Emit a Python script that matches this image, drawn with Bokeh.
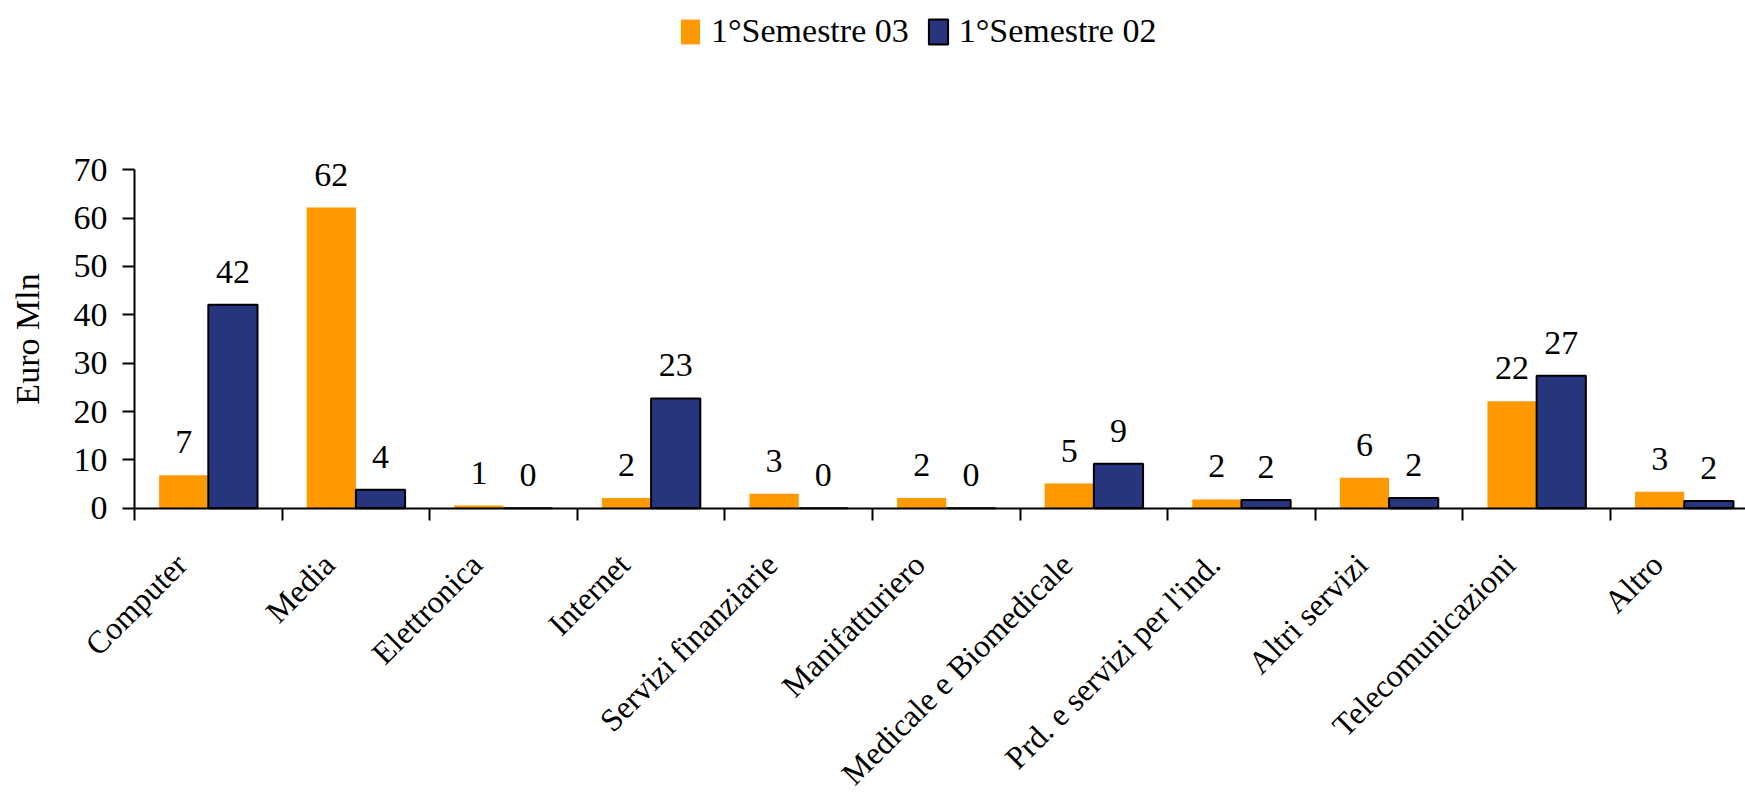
import numpy as np
from math import pi
from bokeh.plotting import figure
from bokeh.models import ColumnDataSource, Range1d, FixedTicker, LabelSet
from bokeh.core.properties import value
from bokeh.embed import file_html
from bokeh.resources import INLINE

# ---- data ----
categories = ["Computer", "Media", "Elettronica", "Internet", "Servizi finanziarie",
              "Manifatturiero", "Medicale e Biomedicale", "Prd. e servizi per l'ind.",
              "Altri servizi", "Telecomunicazioni", "Altro"]
sem03 = [6.8, 62.2, 0.55, 2.1, 3.0, 2.1, 5.1, 1.8, 6.3, 22.1, 3.4]
sem02 = [42.1, 3.8, 0.0, 22.7, 0.0, 0.0, 9.2, 1.7, 2.1, 27.4, 1.5]
series_names = ["1°Semestre 03", "1°Semestre 02"]
y_ticks = [0, 10, 20, 30, 40, 50, 60, 70]
y_label = "Euro Mln"

# ---- style / layout ----
ORANGE = "#FF9900"
BLUE = "#27357F"
FONT = "Liberation Serif"
# the plot frame spans the whole picture so that axis texts, rotated labels and the
# legend lying outside the 0..70 / category area stay visible; the axes sit at x=0, y=0
X_VIEW = (-0.908, 10.915)
Y_VIEW = (-59.64, 105.02)
BAR_W = 1 / 3

n = len(categories)
centers = np.arange(n) + 0.5

src = ColumnDataSource(dict(
    x03=centers - BAR_W / 2, x02=centers + BAR_W / 2,
    s03=sem03, s02=sem02,
    l03=[f"{v:.0f}" for v in sem03], l02=[f"{v:.0f}" for v in sem02],
))
cat_src = ColumnDataSource(dict(x=centers, y=np.zeros(n), name=categories))

p = figure(width=1745, height=796,
           x_range=Range1d(*X_VIEW), y_range=Range1d(*Y_VIEW),
           output_backend="svg", toolbar_location=None,
           min_border_left=0, min_border_right=0, min_border_top=0, min_border_bottom=0)
p.outline_line_color = None
p.xgrid.visible = False
p.ygrid.visible = False
p.background_fill_color = "white"

r03 = p.vbar(x="x03", top="s03", width=BAR_W, bottom=0, source=src,
             fill_color=ORANGE, line_color=None, legend_label=series_names[0])
r02 = p.vbar(x="x02", top="s02", width=BAR_W, bottom=0, source=src,
             fill_color=BLUE, line_color="black", line_width=2, legend_label=series_names[1])

for xcol, ycol, tcol in (("x03", "s03", "l03"), ("x02", "s02", "l02")):
    p.add_layout(LabelSet(x=xcol, y=ycol, text=tcol, source=src, y_offset=33,
                          text_align="center", text_baseline="middle",
                          text_font=FONT, text_font_size="34px", text_color="black"))

# category names, rotated 45 degrees, ending just below their category
p.text(x="x", y="y", text="name", source=cat_src, angle=pi / 4,
       x_offset=-27, y_offset=51, text_align="right", text_baseline="alphabetic",
       text_font=value(FONT), text_font_size="32px", text_color="black")

# x axis along y=0 with tick marks on category boundaries
xa = p.xaxis[0]
xa.fixed_location = 0
xa.bounds = (0, n)
xa.ticker = FixedTicker(ticks=list(range(n + 1)))
xa.major_label_overrides = {i: "" for i in range(n + 1)}
xa.major_label_text_font_size = "0px"
xa.major_tick_out = 12
xa.major_tick_in = 0
xa.minor_tick_line_color = None
xa.major_tick_line_color = "black"
xa.major_tick_line_width = 2
xa.axis_line_color = "black"
xa.axis_line_width = 2

# y axis along x=0
ya = p.yaxis[0]
ya.fixed_location = 0
ya.bounds = (y_ticks[0], y_ticks[-1])
ya.ticker = FixedTicker(ticks=y_ticks)
ya.major_tick_out = 12
ya.major_tick_in = 0
ya.minor_tick_line_color = None
ya.major_tick_line_color = "black"
ya.major_tick_line_width = 2
ya.axis_line_color = "black"
ya.axis_line_width = 2
ya.major_label_standoff = 15
ya.major_label_text_font = FONT
ya.major_label_text_font_size = "34px"
ya.major_label_text_color = "black"
ya.axis_label = y_label
ya.axis_label_standoff = 25
ya.axis_label_text_font = FONT
ya.axis_label_text_font_size = "34px"
ya.axis_label_text_font_style = "normal"
ya.axis_label_text_color = "black"

lg = p.legend[0]
lg.location = (678, 746)
lg.orientation = "horizontal"
lg.label_text_font = FONT
lg.label_text_font_size = "34px"
lg.label_text_color = "black"
lg.glyph_width = 24
lg.glyph_height = 31
lg.label_standoff = 9
lg.spacing = 17
lg.padding = 0
lg.margin = 0
lg.border_line_color = None
lg.background_fill_alpha = 0

open("out.html", "w").write(file_html(p, INLINE))
